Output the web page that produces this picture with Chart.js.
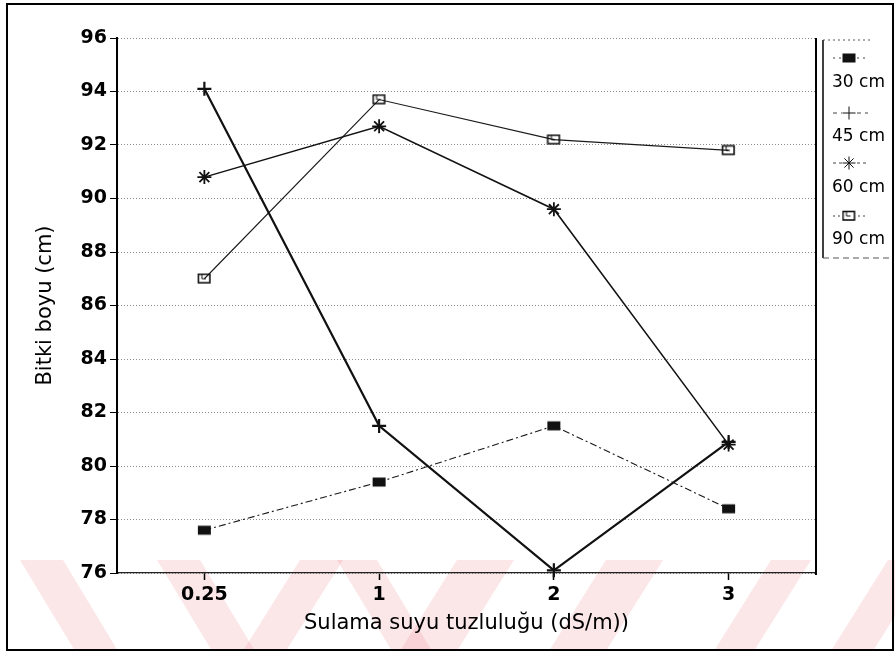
<!DOCTYPE html>
<html>
<head>
<meta charset="utf-8">
<title>Bitki boyu</title>
<script src="https://cdn.jsdelivr.net/npm/chart.js@4/dist/chart.umd.min.js"></script>
<style>
  html, body { margin: 0; padding: 0; background: #fff; }
  #wrap { width: 895px; height: 653px; position: relative; }
</style>
</head>
<body>
<div id="wrap"><canvas id="chart" width="895" height="653"></canvas></div>
<script>
// Salinity levels of the irrigation water (dS/m)
const categories = ['0.25', '1', '2', '3'];
// Series names (planting depth)
const seriesLabels = ['30 cm', '45 cm', '60 cm', '90 cm'];
// Plant height (cm) for each series
const height30 = [77.6, 79.4, 81.5, 78.4];
const height45 = [94.1, 81.5, 76.1, 80.9];
const height60 = [90.8, 92.7, 89.6, 80.8];
const height90 = [87.0, 93.7, 92.2, 91.8];
// Value axis
const yMin = 76, yMax = 96, yStep = 2;

const FONT = 'DejaVu Sans';

// Small box markers (slightly wider than tall)
function boxMarker(filled) {
  const c = document.createElement('canvas');
  c.width = 15; c.height = 12;
  const g = c.getContext('2d');
  g.fillStyle = '#111';
  g.strokeStyle = '#111';
  if (filled) {
    g.fillRect(1, 1.5, 13, 9);
  } else {
    g.lineWidth = 1.6;
    g.strokeRect(1.5, 1.5, 11.5, 8.5);
    g.beginPath();
    g.moveTo(5, 2); g.lineTo(5, 6); g.lineTo(9, 6);
    g.lineWidth = 1;
    g.stroke();
  }
  return c;
}
const filledBox = boxMarker(true);
const openBox = boxMarker(false);

const datasets = [
  { label: seriesLabels[0], data: height30, borderColor: '#1a1a1a', borderWidth: 1.1,
    borderDash: [7, 3, 2, 3], pointStyle: filledBox, pointRadius: 7,
    legendDash: [2, 4] },
  { label: seriesLabels[1], data: height45, borderColor: '#111', borderWidth: 2.2,
    pointStyle: 'cross', pointRadius: 7, pointBorderWidth: 2.2,
    legendDash: [4, 4] },
  { label: seriesLabels[2], data: height60, borderColor: '#111', borderWidth: 1.5,
    pointStyle: 'star', pointRadius: 7, pointBorderWidth: 1.8,
    legendDash: [3, 3] },
  { label: seriesLabels[3], data: height90, borderColor: '#1a1a1a', borderWidth: 1.1,
    pointStyle: openBox, pointRadius: 7,
    legendDash: [2, 3] }
];
datasets.forEach(d => {
  d.fill = false;
  d.tension = 0;
  d.pointBackgroundColor = '#111';
  d.pointBorderColor = '#111';
  d.clip = false;
});

// Page decoration, plot frame and the stacked legend
const decor = {
  id: 'decor',
  beforeDraw(chart) {
    const ctx = chart.ctx;
    ctx.save();
    ctx.fillStyle = '#fff';
    ctx.fillRect(0, 0, chart.width, chart.height);
    // faint pink diagonal band along the bottom edge
    ctx.fillStyle = 'rgba(238,140,152,0.22)';
    const top = 560, bot = 651;
    const back = [[20, 63], [157, 200], [337, 377]];
    const fwd = [[300, 343], [457, 514], [606, 663], [771, 811], [888, 930]];
    back.forEach(([a, b]) => {
      ctx.beginPath();
      ctx.moveTo(a, top); ctx.lineTo(b, top); ctx.lineTo(b + 55, bot); ctx.lineTo(a + 55, bot);
      ctx.closePath(); ctx.fill();
    });
    fwd.forEach(([a, b]) => {
      ctx.beginPath();
      ctx.moveTo(a, top); ctx.lineTo(b, top); ctx.lineTo(b - 57, bot); ctx.lineTo(a - 57, bot);
      ctx.closePath(); ctx.fill();
    });
    ctx.restore();
  },
  afterDraw(chart) {
    const ctx = chart.ctx;
    const area = chart.chartArea;
    ctx.save();
    // right edge of the plot
    ctx.strokeStyle = '#000';
    ctx.lineWidth = 2;
    ctx.beginPath();
    ctx.moveTo(area.right, area.top);
    ctx.lineTo(area.right, area.bottom + 2);
    ctx.stroke();
    // outer frame
    ctx.lineWidth = 2;
    ctx.strokeRect(7, 4, 886, 646);

    // legend box
    const lx = 823, ly = 40, lb = 258;
    ctx.lineWidth = 1.5;
    ctx.beginPath();
    ctx.moveTo(lx, ly); ctx.lineTo(lx, lb);
    ctx.stroke();
    ctx.lineWidth = 1;
    ctx.strokeStyle = '#555';
    ctx.setLineDash([2, 3]);
    ctx.beginPath(); ctx.moveTo(lx, ly); ctx.lineTo(870, ly); ctx.stroke();
    ctx.setLineDash([6, 4]);
    ctx.beginPath(); ctx.moveTo(lx, lb); ctx.lineTo(892, lb); ctx.stroke();
    ctx.setLineDash([]);

    const markerY = [58, 113, 163, 216];
    const textY = [83, 137, 188, 240];
    chart.data.datasets.forEach((ds, i) => {
      const y = markerY[i];
      ctx.strokeStyle = '#444';
      ctx.lineWidth = 1;
      ctx.setLineDash(ds.legendDash);
      ctx.beginPath(); ctx.moveTo(833, y); ctx.lineTo(868, y); ctx.stroke();
      ctx.setLineDash([]);
      ctx.fillStyle = '#fff';
      ctx.fillRect(842, y - 6, 14, 12);
      ctx.fillStyle = '#111';
      ctx.strokeStyle = '#111';
      Chart.helpers.drawPoint(ctx, {
        pointStyle: ds.pointStyle, radius: 6.5, rotation: 0,
        borderWidth: ds.pointBorderWidth || 1.5
      }, 849, y);
      ctx.fillStyle = '#000';
      ctx.font = '17px "' + FONT + '"';
      ctx.textAlign = 'left';
      ctx.textBaseline = 'middle';
      ctx.fillText(ds.label, 832, textY[i]);
    });
    ctx.restore();
  }
};

new Chart(document.getElementById('chart'), {
  type: 'line',
  data: { labels: categories, datasets: datasets },
  plugins: [decor],
  options: {
    responsive: false,
    animation: false,
    devicePixelRatio: 1,
    layout: { padding: { left: 0, top: 38, right: 79, bottom: 0 } },
    plugins: { legend: { display: false }, tooltip: { enabled: false } },
    scales: {
      x: {
        type: 'category',
        offset: true,
        grid: { display: true, drawOnChartArea: false, drawTicks: true, tickLength: 7,
                tickColor: '#000', tickWidth: 1.5 },
        border: { display: true, color: '#222', width: 1.2 },
        ticks: { color: '#000', font: { family: FONT, size: 19, weight: 'bold' },
                 padding: 4, maxRotation: 0, autoSkip: false },
        title: { display: true, text: 'Sulama suyu tuzluluğu (dS/m))', color: '#000',
                 font: { family: FONT, size: 21 }, padding: { top: 0, bottom: 17 } },
        afterFit(scale) { scale.height = 80; }
      },
      y: {
        min: yMin, max: yMax,
        ticks: { stepSize: yStep, color: '#000', font: { family: FONT, size: 19, weight: 'bold' },
                 padding: 3 },
        grid: { color: '#8a8a8a', lineWidth: 1, tickLength: 7, tickColor: '#000', drawTicks: true },
        border: { display: true, color: '#000', width: 2, dash: [1, 2] },
        title: { display: true, text: 'Bitki boyu (cm)', color: '#000',
                 font: { family: FONT, size: 21 }, padding: { top: 33, bottom: 0 } },
        afterFit(scale) { scale.width = 117; }
      }
    }
  }
});
</script>
</body>
</html>
